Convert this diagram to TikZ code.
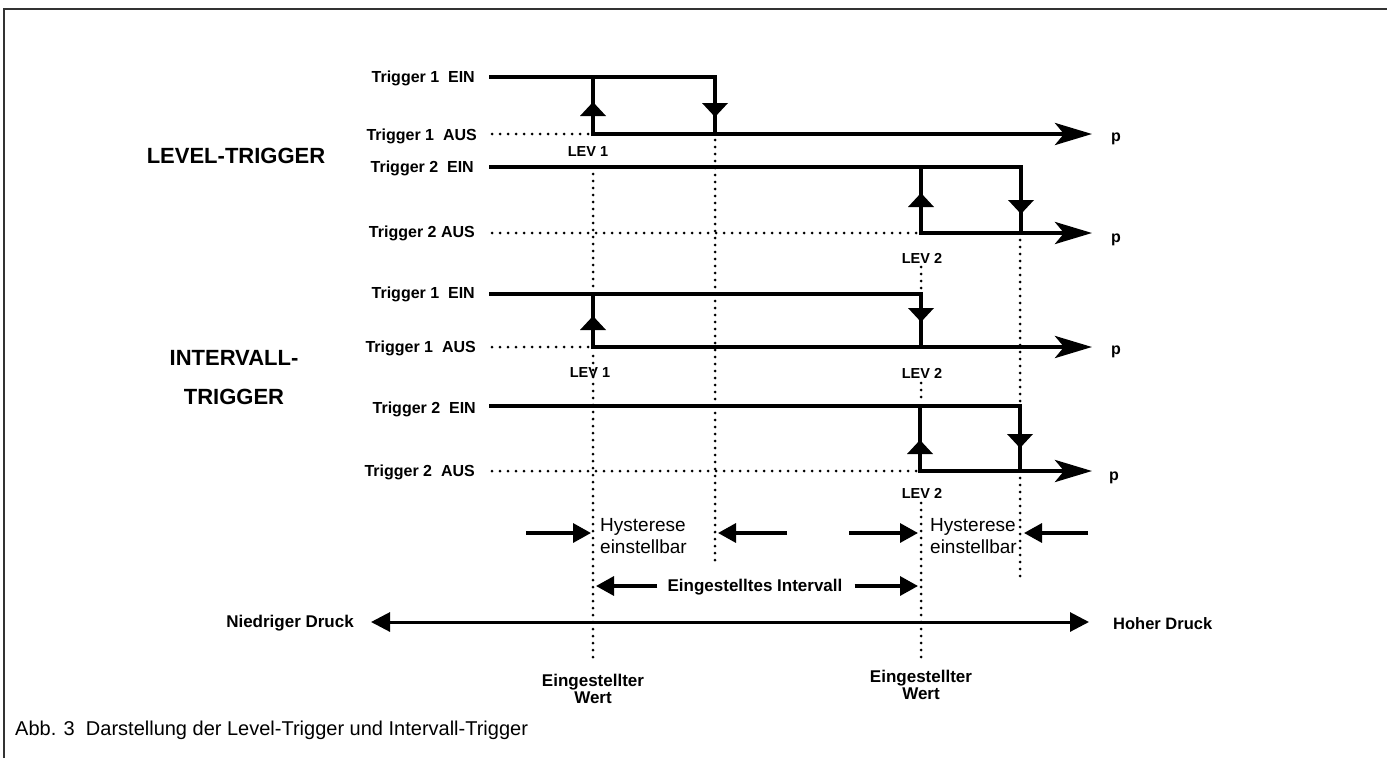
\documentclass[tikz,border=0pt]{standalone}
\usepackage{fontspec}
\setmainfont{Liberation Sans}
\usetikzlibrary{arrows.meta}
\begin{document}
\begin{tikzpicture}[x=1pt,y=-1pt,
  sig/.style={line width=4.4pt, line cap=butt, line join=miter},
  parr/.style={sig, -{Stealth[length=37pt,width=22pt,inset=9pt]}},
  hdot/.style={line width=3pt, line cap=round, dash pattern=on 0pt off 8pt},
  vdot/.style={line width=3pt, line cap=round, dash pattern=on 0pt off 7pt},
  lbl/.style={font=\bfseries\fontsize{16}{18}\selectfont, inner sep=0pt},
  lev/.style={font=\bfseries\fontsize{14.5}{17}\selectfont, inner sep=0pt},
  title/.style={font=\bfseries\fontsize{22}{39}\selectfont, inner sep=0pt, align=center},
  pl/.style={font=\bfseries\fontsize{16}{18}\selectfont, inner sep=0pt},
  hyst/.style={font=\fontsize{19}{22}\selectfont, inner sep=0pt, align=left, anchor=west},
  wert/.style={font=\bfseries\fontsize{17}{15}\selectfont, inner sep=0pt, align=center},
  harr/.style={line width=3.3pt, -{Triangle[length=18pt,width=19pt]}},
  axarr/.style={line width=3pt, {Triangle[length=19pt,width=19pt]}-{Triangle[length=19pt,width=19pt]}},
  uptri/.pic={\fill (-13,7) -- (13,7) -- (0,-7) -- cycle;},
  dntri/.pic={\fill (-13,-7) -- (13,-7) -- (0,7) -- cycle;}
]
\useasboundingbox (0,0) rectangle (1387,758);
% frame
\draw[line width=1.5pt, black!80] (4,758) -- (4,9) -- (1387,9);

% row labels
\node[lbl, anchor=east] (l1e) at (475,78) {Trigger 1\ \ EIN};
\node[lbl, anchor=east] (l1a) at (477,136) {Trigger 1\ \ AUS};
\node[lbl, anchor=east] (l2e) at (474,168) {Trigger 2\ \ EIN};
\node[lbl, anchor=east] (l2a) at (475,233) {Trigger 2 AUS};
\node[lbl, anchor=east] (l3e) at (475,294) {Trigger 1\ \ EIN};
\node[lbl, anchor=east] (l3a) at (476,348) {Trigger 1\ \ AUS};
\node[lbl, anchor=east] (l4e) at (476,409) {Trigger 2\ \ EIN};
\node[lbl, anchor=east] (l4a) at (475,472) {Trigger 2\ \ AUS};

\node[title] (lt) at (236,156) {LEVEL-TRIGGER};
\node[title] (it) at (234,378) {INTERVALL-\\TRIGGER};

% dotted horizontals
\draw[hdot] (492,134) -- (588,134);
\draw[hdot] (492,233) -- (916,233);
\draw[hdot] (492,347) -- (588,347);
\draw[hdot] (492,471) -- (916,471);

% dotted verticals
\draw[vdot] (593,174) -- (593,290);
\draw[vdot] (593,356) -- (593,660);
\draw[vdot] (715,140) -- (715,562);
\draw[vdot] (921,267) -- (921,290);
\draw[vdot] (921,383) -- (921,402);
\draw[vdot] (921,503) -- (921,660);
\draw[vdot] (1020,240) -- (1020,402);
\draw[vdot] (1020,478) -- (1020,578);

% row 1
\draw[sig] (489,77) -- (715,77) -- (715,134);
\draw[sig] (593,134) -- (593,77);
\draw[parr] (591,134) -- (1092,134);
\pic at (593,109) {uptri};
\pic at (715,110) {dntri};
\node[pl] (p1) at (1116,139) {p};
\node[lev] (lev1a) at (588,152) {LEV 1};

% row 2
\draw[sig] (489,167) -- (1021,167) -- (1021,233);
\draw[sig] (921,233) -- (921,167);
\draw[parr] (919,233) -- (1092,233);
\pic at (921,200) {uptri};
\pic at (1021,207) {dntri};
\node[pl] (p2) at (1116,240) {p};
\node[lev] (lev2a) at (922,258) {LEV 2};

% row 3
\draw[sig] (489,294) -- (921,294) -- (921,347);
\draw[sig] (593,347) -- (593,294);
\draw[parr] (591,347) -- (1092,347);
\pic at (593,323) {uptri};
\pic at (921,315) {dntri};
\node[pl] (p3) at (1116,352) {p};
\node[lev] (lev1b) at (590,373) {LEV 1};
\node[lev] (lev2b) at (922,373) {LEV 2};

% row 4
\draw[sig] (489,406) -- (1020,406) -- (1020,471);
\draw[sig] (920,471) -- (920,406);
\draw[parr] (918,471) -- (1092,471);
\pic at (920,447) {uptri};
\pic at (1020,441) {dntri};
\node[pl] (p4) at (1114,478) {p};
\node[lev] (lev2c) at (922,493) {LEV 2};

% hysterese
\node[hyst] (h1) at (600,536) {Hysterese\\einstellbar};
\node[hyst] (h2) at (930,536) {Hysterese\\einstellbar};
\coordinate (h1a) at (526,533);
\coordinate (h1b) at (591,533);
\coordinate (h1c) at (787,533);
\coordinate (h1d) at (718,533);
\coordinate (h2a) at (849,533);
\coordinate (h2b) at (918,533);
\coordinate (h2c) at (1088,533);
\coordinate (h2d) at (1024,533);
\draw[harr] (h1a) -- (h1b);
\draw[harr] (h1c) -- (h1d);
\draw[harr] (h2a) -- (h2b);
\draw[harr] (h2c) -- (h2d);

% interval
\node[font=\bfseries\fontsize{17}{19}\selectfont, inner sep=0pt] (iv) at (755,587) {Eingestelltes Intervall};
\coordinate (iva) at (596,586);
\coordinate (ivb) at (918,586);
\draw[harr] ([xshift=-10pt]iv.west |- iva) -- (iva);
\draw[harr] ([xshift=12pt]iv.east |- ivb) -- (ivb);

% axis
\node[font=\bfseries\fontsize{17}{19}\selectfont, inner sep=0pt, anchor=east] (nd) at (354,623) {Niedriger Druck};
\node[font=\bfseries\fontsize{16.5}{19}\selectfont, inner sep=0pt, anchor=west] (hd) at (1113,624) {Hoher Druck};
\draw[axarr] ([xshift=17pt]nd.east |- 0,622) -- ([xshift=-24pt]hd.west |- 0,622);

\node[wert] (w1) at (593,689) {Eingestellter\\Wert};
\node[wert] (w2) at (921,685) {Eingestellter\\Wert};

% caption
\node[font=\fontsize{20}{22}\selectfont, inner sep=0pt, anchor=west] (cap) at (15,730) {Abb. 3\ \ Darstellung der Level-Trigger und Intervall-Trigger};
\end{tikzpicture}
\end{document}
